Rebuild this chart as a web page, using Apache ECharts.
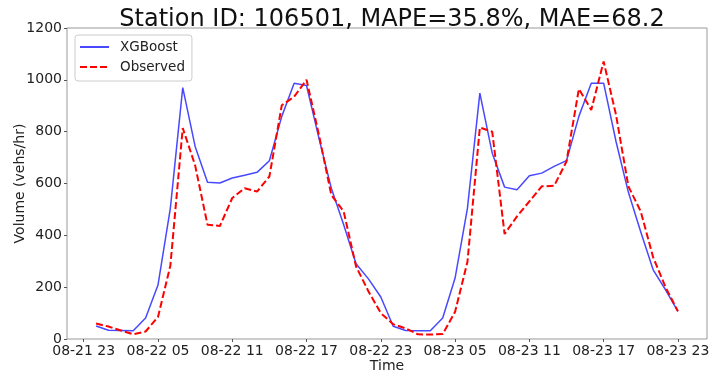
<!DOCTYPE html>
<html>
<head>
<meta charset="utf-8">
<script src="https://cdn.jsdelivr.net/npm/echarts@6/dist/echarts.min.js"></script>
<style>html,body{margin:0;padding:0;background:#fff}#c{width:710px;height:373px}</style>
</head>
<body>
<div id="c"></div>
<script>
// hours since 08-21 23
const hours = [1,2,3,4,5,6,7,8,9,10,11,12,13,14,15,16,17,18,19,20,21,22,23,24,25,26,27,28,29,30,31,32,33,34,35,36,37,38,39,40,41,42,43,44,45,46,47,48];
const xgboost = [50,34,33,32,81,208,505,970,743,605,602,621,632,643,688,859,987,978,775,582,441,290,232,162,49,33,32,32,81,235,505,949,717,586,576,630,640,666,688,859,987,987,762,566,413,267,190,107];
const observed = [60,48,33,18,29,85,283,814,670,441,436,544,582,569,627,902,935,1000,788,556,492,280,184,100,57,41,18,17,19,105,298,816,800,405,473,531,589,591,685,965,884,1071,865,589,492,315,200,107];
const tickHours = [0,6,12,18,24,30,36,42,48];
const tickLabels = ['08-21 23','08-22 05','08-22 11','08-22 17','08-22 23','08-23 05','08-23 11','08-23 17','08-23 23'];

const FONT = 'DejaVu Sans';
const chart = echarts.init(document.getElementById('c'), null, {renderer:'canvas'});
chart.setOption({
  animation: false,
  backgroundColor: '#fff',
  title: {
    text: 'Station ID: 106501, MAPE=35.8%, MAE=68.2',
    left: 387, top: 3, textAlign: 'center',
    textStyle: {fontFamily: FONT, fontSize: 24, fontWeight: 'normal', color: '#111'}
  },
  legend: {
    orient: 'vertical', left: 75, top: 35,
    itemWidth: 29, itemHeight: 14, itemGap: 6,
    padding: [5, 7, 7, 4],
    borderColor: '#cccccc', borderWidth: 1, borderRadius: 3,
    backgroundColor: 'rgba(255,255,255,0.85)',
    itemStyle: {opacity: 0},
    textStyle: {fontFamily: FONT, fontSize: 13.5, color: '#222', padding: [0,0,0,6]},
    data: ['XGBoost', 'Observed']
  },
  grid: {left: 67, right: 3, top: 28, bottom: 34, outerBoundsMode: 'none', containLabel: false,
    show: true, borderColor: '#999', borderWidth: 1, backgroundColor: 'transparent'},
  xAxis: {
    type: 'value', min: -1.35, max: 50.35,
    name: 'Time', nameLocation: 'middle', nameGap: 20, nameMoveOverlap: false,
    nameTextStyle: {fontFamily: FONT, fontSize: 14, color: '#222'},
    axisLine: {show: false, onZero: false},
    axisTick: {show: true, length: 3, lineStyle: {color: '#555'}, customValues: tickHours},
    axisLabel: {customValues: tickHours, fontFamily: FONT, fontSize: 14, color: '#222', margin: 5,
      formatter: v => tickLabels[tickHours.indexOf(v)] ?? ''},
    splitLine: {show: false}
  },
  yAxis: {
    type: 'value', min: 0, max: 1200, interval: 200,
    name: 'Volume (vehs/hr)', nameLocation: 'middle', nameGap: 40, nameMoveOverlap: false,
    nameTextStyle: {fontFamily: FONT, fontSize: 14, color: '#222'},
    axisLine: {show: false, onZero: false},
    axisTick: {show: true, length: 3, lineStyle: {color: '#555'}},
    axisLabel: {fontFamily: FONT, fontSize: 14, color: '#222', margin: 5, formatter: v => String(v)},
    splitLine: {show: false}
  },
  series: [
    {name: 'XGBoost', type: 'line', symbol: 'none', data: hours.map((h,i)=>[h, xgboost[i]]),
     lineStyle: {color: 'rgba(20,20,255,0.78)', width: 1.5}, itemStyle: {color: 'rgba(20,20,255,0.78)'}, z: 2},
    {name: 'Observed', type: 'line', symbol: 'none', data: hours.map((h,i)=>[h, observed[i]]),
     lineStyle: {color: '#ff0000', width: 2, type: [7,3]}, itemStyle: {color: '#ff0000'}, z: 3}
  ]
});
</script>
</body>
</html>
